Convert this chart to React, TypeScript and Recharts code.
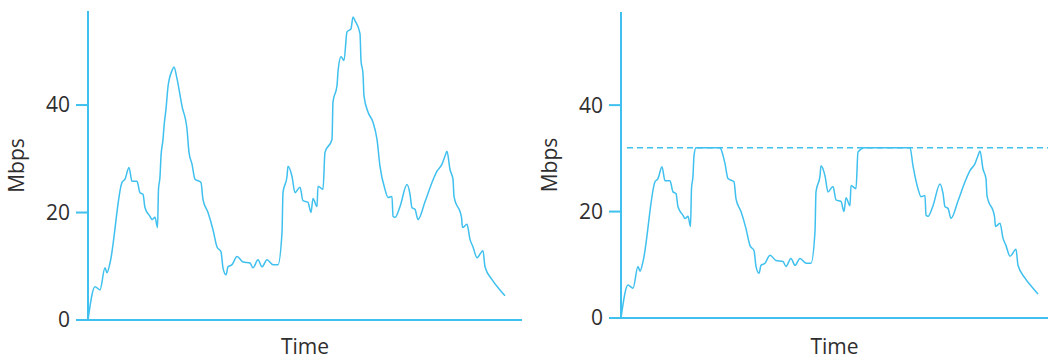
import React from 'react';
import { LineChart, Line, XAxis, YAxis, ReferenceLine } from 'recharts';

// Time (arbitrary units) and measured rate (Mbps)
const TIME = [
  0, 7, 12, 17, 19, 22, 34, 37, 41, 44, 49, 52, 55, 57, 62, 64, 67, 69.5, 70.5, 72,
  73, 75, 76, 78, 80, 84, 86, 89, 94, 99, 101, 104, 107, 113, 115, 120, 125, 129, 133, 135,
  138, 140, 144, 149, 155, 162, 165, 170, 174, 179, 185, 190, 194, 195, 199, 200, 204, 207, 212, 215,
  220, 223, 225, 229, 230, 235, 237, 244, 245, 249, 250, 253, 256, 259, 263, 265, 267, 272, 273, 275,
  276, 280, 285, 289, 292, 297, 300, 304, 305, 307, 312, 319, 322, 324, 327, 330, 337, 344, 349, 354,
  357, 359, 362, 365, 366, 373.5, 374.5, 379, 382, 385, 389, 395, 397, 404, 412, 417,
];
const RATE = [
  0, 6.2, 5.6, 9.7, 8.8, 10.6, 25.6, 26.2, 28.4, 25.8, 25.8, 23.7, 23.4, 20.9, 19.3, 18.7, 19.1, 17.2, 24.3, 26.7,
  30.5, 33.6, 36, 39.3, 43.4, 46.4, 47.1, 44.9, 39.8, 35.5, 31.2, 29, 26.2, 25.6, 22.4, 20, 16.8, 13.6, 12.7, 9.7,
  8.4, 9.9, 10.3, 11.8, 10.8, 10.6, 9.7, 11.2, 9.9, 11.2, 10.3, 10.3, 16.3, 23.7, 26.7, 28.6, 26.7, 23.7, 24.7, 22.2,
  21.9, 20, 22.6, 21.1, 24.9, 24.3, 31.2, 33.6, 40.6, 43.6, 46.2, 49, 48.3, 53.6, 54.2, 56.4, 55.7, 53.3, 48.3, 45.8,
  41.7, 38.7, 36.8, 33.6, 28.6, 24.3, 22.8, 23, 19.3, 19.1, 21.1, 25.2, 23.4, 20.9, 20.6, 18.7, 22, 25.6, 27.7, 29,
  30.5, 31.4, 28, 26.2, 23, 19.1, 17.2, 17.8, 15, 13.6, 11.6, 12.9, 9.9, 7.5, 5.6, 4.5,
];
const RATE_CAP = 32; // Mbps limit shown in the right panel
const Y_TICKS = [0, 20, 40];
const Y_MAX = 57.5;
const X_LABEL = 'Time';
const Y_LABEL = 'Mbps';

const rawData = TIME.map((t, i) => ({ t, v: RATE[i] }));
const cappedData = TIME.map((t, i) => ({ t, v: Math.min(RATE[i], RATE_CAP) }));

const BLUE = '#3fc0ee';
const TEXT = '#2e2e2e';
const FONT = '"Open Sans", sans-serif';

type PanelProps = {
  data: { t: number; v: number }[];
  width: number;
  xMax: number;
  top: number;
  xAxisHeight: number;
  right: number;
  cap?: number;
};

function Panel({ data, width, xMax, top, xAxisHeight, right, cap }: PanelProps) {
  return (
    <LineChart
      width={width}
      height={360}
      data={data}
      margin={{ top, right, left: 0, bottom: 0 }}
      style={{ fontFamily: FONT }}
    >
      <XAxis
        dataKey="t"
        type="number"
        domain={[0, xMax]}
        tick={false}
        tickLine={false}
        height={xAxisHeight}
        axisLine={{ stroke: BLUE, strokeWidth: 2 }}
        label={{ value: X_LABEL, position: 'insideBottom', offset: 6, fill: TEXT, fontSize: 21 }}
      />
      <YAxis
        type="number"
        domain={[0, Y_MAX]}
        ticks={Y_TICKS}
        allowDataOverflow
        width={88}
        tickSize={12}
        tickMargin={6}
        axisLine={{ stroke: BLUE, strokeWidth: 2 }}
        tickLine={{ stroke: BLUE, strokeWidth: 2 }}
        tick={{ fill: TEXT, fontSize: 21 }}
        label={{
          value: Y_LABEL,
          angle: -90,
          position: 'insideLeft',
          offset: 17,
          fill: TEXT,
          fontSize: 21,
          style: { textAnchor: 'middle' },
        }}
      />
      {cap !== undefined && (
        <ReferenceLine
          segment={[{ x: 6, y: cap }, { x: xMax, y: cap }]}
          stroke={BLUE}
          strokeWidth={1.5}
          strokeDasharray="6 4"
        />
      )}
      <Line
        type="monotone"
        dataKey="v"
        stroke={BLUE}
        strokeWidth={1.5}
        dot={false}
        isAnimationActive={false}
      />
    </LineChart>
  );
}

export default function App() {
  return (
    <div style={{ position: 'absolute', left: 0, top: 0, width: 1050, height: 360, background: '#fff' }}>
      <div style={{ position: 'absolute', left: 0, top: 0 }}>
        <Panel data={rawData} width={530} xMax={434} top={11} xAxisHeight={40} right={8} />
      </div>
      <div style={{ position: 'absolute', left: 533, top: 0 }}>
        <Panel data={cappedData} width={517} xMax={427} top={12} xAxisHeight={42} right={2} cap={RATE_CAP} />
      </div>
    </div>
  );
}
